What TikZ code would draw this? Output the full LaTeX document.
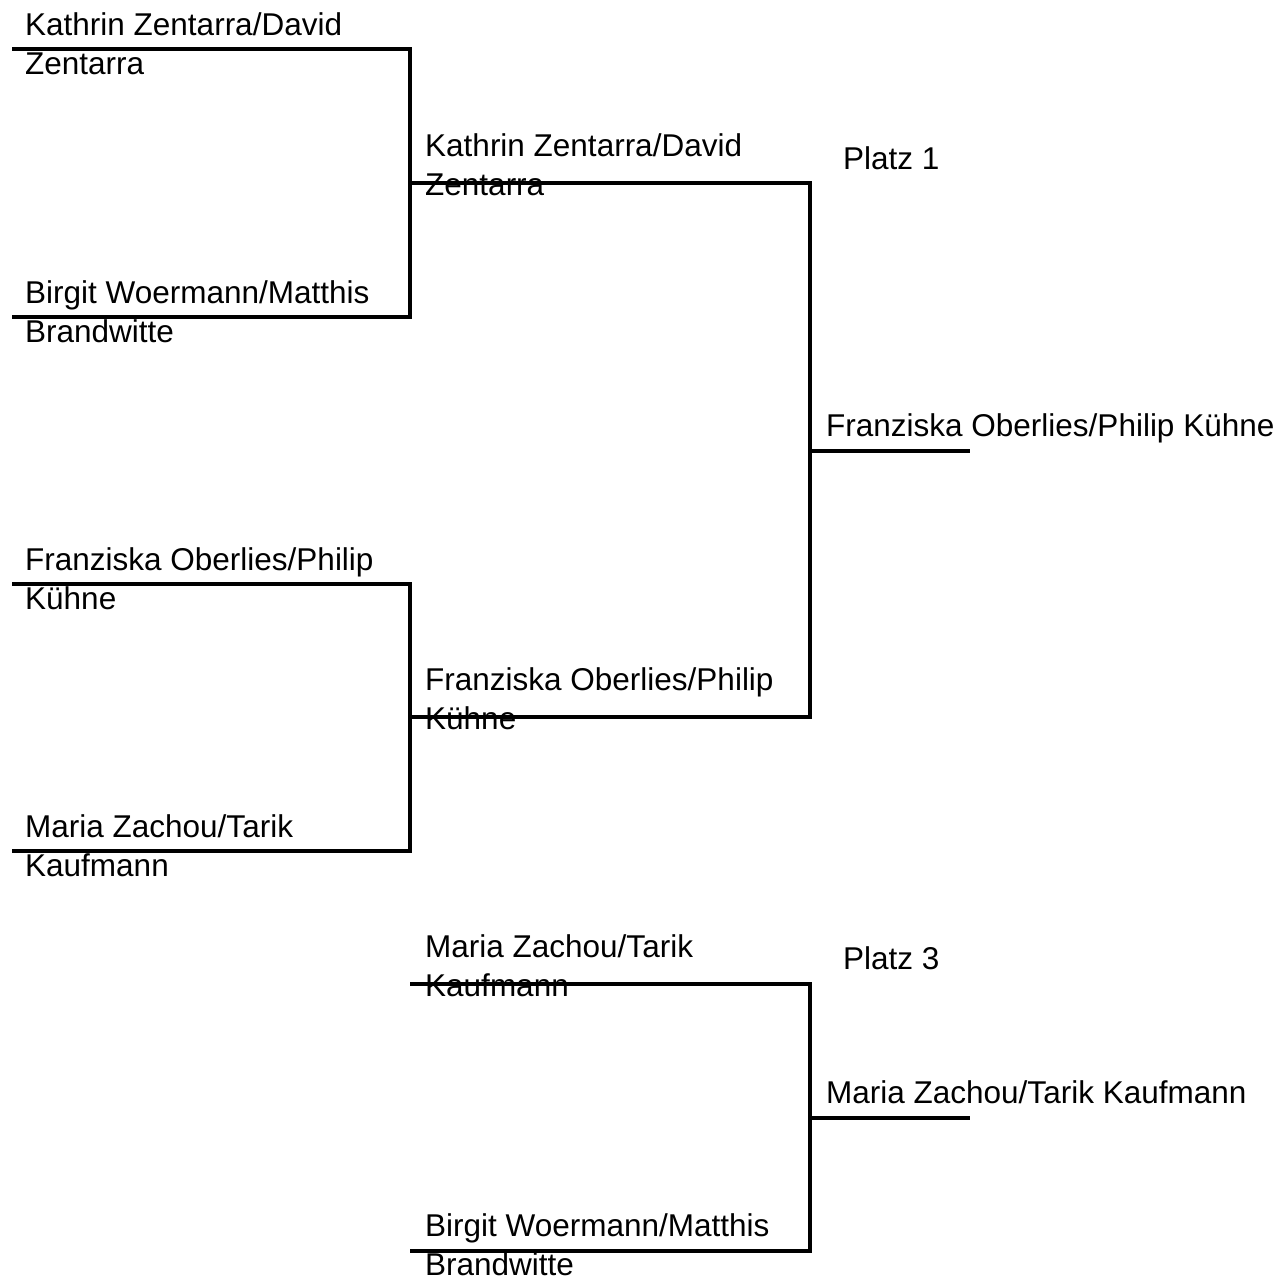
\documentclass[tikz,border=0pt]{standalone}
\usepackage{fontspec}
\setmainfont{Liberation Sans}
\newcommand{\twolines}[2]{\vtop{\hbox{#1}\hbox{#2}}}
\begin{document}
\begin{tikzpicture}[x=1pt,y=-1pt,
  lbl/.style={anchor=base west,inner sep=0pt,font=\fontsize{31.5}{39.5}\selectfont},
  wire/.style={line width=4.8pt,line join=miter,line cap=butt}]
\useasboundingbox (0,0) rectangle (1287,1283);
% labels
\node[lbl] (a1) at (25,35) {\twolines{Kathrin Zentarra/David}{Zentarra}};
\node[lbl] (a2) at (25,303) {\twolines{Birgit Woermann/Matthis}{Brandwitte}};
\node[lbl] (a3) at (25,570) {\twolines{Franziska Oberlies/Philip}{Kühne}};
\node[lbl] (a4) at (25,837) {\twolines{Maria Zachou/Tarik}{Kaufmann}};
\node[lbl] (b1) at (425,156) {\twolines{Kathrin Zentarra/David}{Zentarra}};
\node[lbl] (b2) at (425,690) {\twolines{Franziska Oberlies/Philip}{Kühne}};
\node[lbl] (f1) at (826,436) {Franziska Oberlies/Philip Kühne};
\node[lbl] (p1) at (843,169) {Platz 1};
\node[lbl] (c1) at (425,957) {\twolines{Maria Zachou/Tarik}{Kaufmann}};
\node[lbl] (c2) at (425,1236) {\twolines{Birgit Woermann/Matthis}{Brandwitte}};
\node[lbl] (f3) at (826,1103) {Maria Zachou/Tarik Kaufmann};
\node[lbl] (p3) at (843,969) {Platz 3};
% coordinates
\coordinate (s1) at (12,49);   \coordinate (j1a) at (410,49);
\coordinate (s2) at (12,317);  \coordinate (j1b) at (410,317);
\coordinate (s3) at (12,584);  \coordinate (j2a) at (410,584);
\coordinate (s4) at (12,851);  \coordinate (j2b) at (410,851);
\coordinate (m1) at (410,183); \coordinate (k1a) at (810,183);
\coordinate (m2) at (410,717); \coordinate (k1b) at (810,717);
\coordinate (k1) at (810,451); \coordinate (w1) at (970,451);
\coordinate (t1) at (410,984); \coordinate (k3a) at (810,984);
\coordinate (t2) at (410,1251);\coordinate (k3b) at (810,1251);
\coordinate (k3) at (810,1118);\coordinate (w3) at (970,1118);
% wires
\draw[wire] (s1) -- (j1a) -- (j1b) -- (s2);
\draw[wire] (s3) -- (j2a) -- (j2b) -- (s4);
\draw[wire] (m1) -- (k1a) -- (k1b) -- (m2);
\draw[wire] (k1) -- (w1);
\draw[wire] (t1) -- (k3a) -- (k3b) -- (t2);
\draw[wire] (k3) -- (w3);
\end{tikzpicture}
\end{document}
